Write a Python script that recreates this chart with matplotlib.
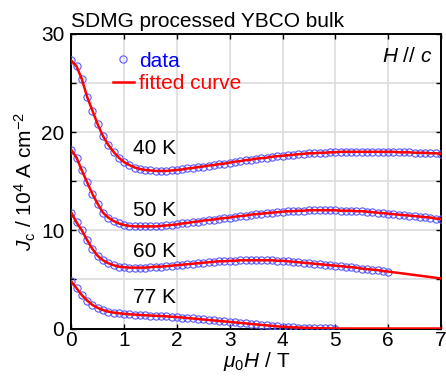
import numpy as np
import matplotlib
matplotlib.use("Agg")
import matplotlib.pyplot as plt

plt.rcParams['font.family'] = ['Liberation Sans', 'DejaVu Sans']
plt.rcParams['mathtext.fontset'] = 'custom'
plt.rcParams['mathtext.rm'] = 'Liberation Sans'
plt.rcParams['mathtext.it'] = 'Liberation Sans:italic'

# field grid (T), 0.1 T steps
field_7 = np.round(np.arange(71) * 0.1, 1)
field_6 = field_7[:61]
field_5 = field_7[:51]

jc_40K = [27.3, 26.7, 25.4, 23.6, 22.2, 20.8, 19.6, 18.7, 18.0, 17.4,
          16.95, 16.65, 16.4, 16.25, 16.15, 16.1, 16.05, 16.05, 16.05, 16.1,
          16.15, 16.2, 16.3, 16.35, 16.45, 16.5, 16.6, 16.65, 16.75, 16.8,
          16.9, 17.0, 17.05, 17.15, 17.2, 17.3, 17.35, 17.4, 17.5, 17.55,
          17.6, 17.65, 17.7, 17.75, 17.8, 17.85, 17.85, 17.9, 17.9, 17.95,
          17.95, 18.0, 18.0, 18.0, 18.0, 18.0, 18.0, 18.0, 18.0, 18.0,
          18.0, 18.0, 17.95, 17.95, 17.95, 17.9, 17.9, 17.9, 17.85, 17.85,
          17.8]
jc_50K = [18.2, 17.4, 16.1, 14.9, 13.7, 12.7, 11.8, 11.3, 10.95, 10.7,
          10.55, 10.45, 10.4, 10.4, 10.4, 10.4, 10.4, 10.45, 10.5, 10.55,
          10.6, 10.7, 10.75, 10.85, 10.9, 11.0, 11.05, 11.1, 11.2, 11.25,
          11.3, 11.4, 11.45, 11.5, 11.6, 11.65, 11.7, 11.75, 11.8, 11.85,
          11.9, 11.95, 11.95, 12.0, 12.0, 12.05, 12.05, 12.05, 12.05, 12.05,
          12.05, 12.0, 12.0, 12.0, 11.95, 11.95, 11.9, 11.85, 11.8, 11.75,
          11.7, 11.65, 11.6, 11.55, 11.5, 11.45, 11.4, 11.35, 11.3, 11.2,
          11.15]
jc_60K = [11.8, 10.8, 10.0, 9.0, 8.1, 7.4, 6.95, 6.65, 6.45, 6.3,
          6.25, 6.2, 6.2, 6.2, 6.2, 6.25, 6.3, 6.3, 6.35, 6.4,
          6.45, 6.5, 6.55, 6.6, 6.65, 6.7, 6.75, 6.8, 6.85, 6.85,
          6.9, 6.9, 6.95, 6.95, 6.95, 6.95, 6.95, 6.95, 6.95, 6.9,
          6.9, 6.85, 6.8, 6.75, 6.7, 6.65, 6.6, 6.55, 6.5, 6.45,
          6.4, 6.35, 6.3, 6.25, 6.2, 6.1, 6.05, 6.0, 5.95, 5.85,
          5.8]
jc_77K = [4.8, 4.1, 3.4, 2.85, 2.4, 2.1, 1.88, 1.72, 1.62, 1.55,
          1.5, 1.45, 1.42, 1.38, 1.35, 1.32, 1.3, 1.27, 1.24, 1.2,
          1.16, 1.12, 1.07, 1.02, 0.97, 0.92, 0.87, 0.82, 0.77, 0.72,
          0.67, 0.62, 0.57, 0.52, 0.47, 0.42, 0.37, 0.32, 0.27, 0.22,
          0.18, 0.15, 0.12, 0.1, 0.08, 0.06, 0.04, 0.03, 0.02, 0.01,
          0.0]

# fitted curve beyond the measured range
fit_ext_60K_field = [6.5, 7.0]
fit_ext_60K = [5.45, 5.1]
fit_ext_77K_field = [6.0, 7.0]
fit_ext_77K = [0.0, 0.0]

temps = ['40 K', '50 K', '60 K', '77 K']
label_y = [17.8, 11.5, 7.3, 2.6]

FS = 15

fig = plt.figure(figsize=(4.46, 3.76), dpi=100)
ax = fig.add_axes([0.1598, 0.1263, 0.8290, 0.7833])

data_sets = [
    (field_7, jc_40K, [], []),
    (field_7, jc_50K, [], []),
    (field_6, jc_60K, fit_ext_60K_field, fit_ext_60K),
    (field_5, jc_77K, fit_ext_77K_field, fit_ext_77K),
]

for i, (h, jc, hx, jx) in enumerate(data_sets):
    ax.plot(h, jc, 'o', ms=5.2, mfc='none', mec=(0.35, 0.35, 1.0), mew=0.8,
            label='data' if i == 0 else None, zorder=3)
    ax.plot(list(h) + hx, list(jc) + jx, '-', color='red', lw=1.8,
            label='fitted curve' if i == 0 else None, zorder=4)

for t, y in zip(temps, label_y):
    ax.text(1.17, y, t, fontsize=FS, va='baseline', ha='left')

ax.text(0.976, 27.1, r'$\it{H}$ // $\it{c}$', transform=ax.get_yaxis_transform(),
        fontsize=FS, ha='right', va='baseline')

ax.set_xlim(0, 7)
ax.set_ylim(0, 30)
ax.set_xticks(range(8))
ax.set_yticks(range(0, 31, 5))
ax.set_yticklabels(['0', '', '10', '', '20', '', '30'])
ax.tick_params(direction='in', length=3.5, width=1, top=True, right=True,
               labelsize=FS)
ax.tick_params(axis='x', pad=2)
ax.tick_params(axis='y', pad=5)
ax.grid(True, color='#dedede', lw=1.3)
ax.set_axisbelow(True)
for s in ax.spines.values():
    s.set_linewidth(1.4)

ax.set_xlabel(r'$\mu_0H$ / T', fontsize=FS, labelpad=0)
ax.set_ylabel(r'$J_{\rm c}$ / 10$^4$ A cm$^{-2}$', fontsize=FS, labelpad=2)
ax.set_title('SDMG processed YBCO bulk', fontsize=FS, loc='left', pad=5)

leg = ax.legend(loc='upper left', bbox_to_anchor=(0.113, 0.94), frameon=False,
                fontsize=FS, handlelength=1.0, handletextpad=0.25,
                borderpad=0, borderaxespad=0, labelspacing=0.18)
leg.get_texts()[0].set_color('blue')
leg.get_texts()[1].set_color('red')

fig.savefig('out.png', dpi=100)
